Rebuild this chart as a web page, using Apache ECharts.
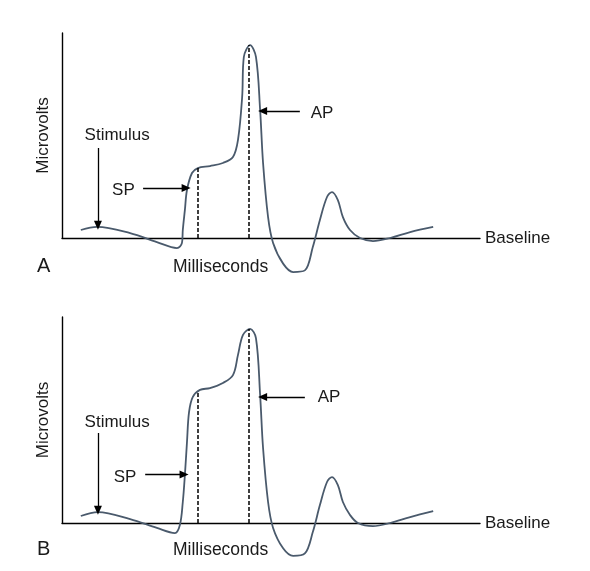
<!DOCTYPE html>
<html>
<head>
<meta charset="utf-8">
<script src="https://cdn.jsdelivr.net/npm/echarts@6/dist/echarts.min.js"></script>
<style>
  html, body { margin: 0; padding: 0; background: #fff; }
  #chart { width: 590px; height: 571px; }
</style>
</head>
<body>
<div id="chart"></div>
<script>
// time (ms) and amplitude (arbitrary µV)
const timeA = [0.45, 0.84, 1.63, 2.27, 2.75, 2.87, 2.89, 2.94, 2.99, 3.11, 3.25, 3.54, 3.85, 4.09, 4.21, 4.31, 4.35, 4.50, 4.64, 4.74, 4.81, 4.93, 5.05, 5.29, 5.53, 5.81, 6.00, 6.17, 6.34, 6.46, 6.60, 6.72, 6.89, 7.13, 7.44, 7.85, 8.33, 8.88]
const voltA = [0.39, 0.54, 0.24, -0.20, -0.49, -0.24, 0.39, 1.37, 2.34, 3.17, 3.41, 3.51, 3.66, 3.95, 4.78, 6.88, 8.83, 9.41, 8.83, 6.24, 3.66, 1.02, -0.24, -1.25, -1.66, -1.58, -0.44, 0.88, 2.00, 2.24, 1.85, 1.02, 0.39, 0, -0.15, 0, 0.29, 0.54]

const timeB = [0.45, 0.86, 1.63, 2.27, 2.70, 2.82, 2.89, 2.94, 2.99, 3.04, 3.13, 3.30, 3.54, 3.85, 4.09, 4.21, 4.33, 4.50, 4.64, 4.74, 4.81, 4.93, 5.05, 5.29, 5.53, 5.81, 6.00, 6.17, 6.34, 6.46, 6.60, 6.72, 6.89, 7.08, 7.44, 7.85, 8.33, 8.88]
const voltB = [0.34, 0.53, 0.19, -0.24, -0.49, -0.10, 1.02, 2.33, 3.93, 5.39, 6.12, 6.46, 6.55, 6.80, 7.18, 8.16, 9.13, 9.42, 8.98, 6.21, 3.64, 1.02, -0.24, -1.23, -1.60, -1.48, -0.44, 0.87, 1.99, 2.23, 1.84, 1.02, 0.39, 0, -0.15, 0, 0.29, 0.58]

// SP and AP latencies / amplitudes marked with dashed lines
const spA = [3.25, 3.41]
const apA = [4.47, 9.41]
const spB = [3.25, 6.41]
const apB = [4.47, 9.42]

const panelLabels = ['A', 'B']
const xTitle = 'Milliseconds'
const yTitle = 'Microvolts'
const baseTitle = 'Baseline'

const font = '"Liberation Sans", Arial, sans-serif'
const ink = '#1a1a1a'
const traceColor = '#4a5a6c'

const pair = (xs, ys) => xs.map((x, i) => [x, ys[i]])

const dashed = { color: '#000', width: 1.5, type: [4, 2] }
const arrow = { color: '#000', width: 1.3, type: 'solid' }

function marks(sp, ap, stim, spArrow, apArrow, labels) {
    return {
        markLine: {
            silent: true,
            animation: false,
            label: { show: false },
            symbol: ['none', 'none'],
            data: [
                [{ coord: [sp[0], 0], lineStyle: dashed }, { coord: [sp[0], sp[1]] }],
                [{ coord: [ap[0], 0], lineStyle: dashed }, { coord: [ap[0], ap[1]] }],
                [{ coord: stim[0], lineStyle: arrow, symbol: 'none' }, { coord: stim[1], symbol: 'triangle', symbolSize: [8, 9], symbolRotate: 180 }],
                [{ coord: spArrow[0], lineStyle: arrow, symbol: 'none' }, { coord: spArrow[1], symbol: 'triangle', symbolSize: [8, 9], symbolRotate: -90 }],
                [{ coord: apArrow[0], lineStyle: arrow, symbol: 'none' }, { coord: apArrow[1], symbol: 'triangle', symbolSize: [8, 9], symbolRotate: 90 }]
            ]
        },
        markPoint: {
            silent: true,
            animation: false,
            symbol: 'circle',
            symbolSize: 0,
            label: { show: true, color: ink, fontSize: 17, fontFamily: font, formatter: p => p.name },
            data: labels.map(l => ({ name: l[0], coord: l[1] }))
        }
    }
}

const chart = echarts.init(document.getElementById('chart'))

const grids = [
    { left: 62, top: 33, width: 418, height: 205 },
    { left: 62, top: 317, width: 418, height: 206 }
]

const axisLine = { show: true, lineStyle: { color: '#000', width: 1.4 } }

const option = {
    animation: false,
    backgroundColor: '#fff',
    grid: grids,
    xAxis: grids.map((g, i) => ({
        type: 'value', gridIndex: i, min: 0, max: 10,
        axisLine: axisLine, axisTick: { show: false }, axisLabel: { show: false }, splitLine: { show: false },
        name: baseTitle, nameLocation: 'end', nameGap: 5,
        nameTextStyle: { color: ink, fontSize: 17, fontFamily: font, padding: [0, 0, 6, 0] }
    })),
    yAxis: grids.map((g, i) => ({
        type: 'value', gridIndex: i, min: 0, max: 10,
        axisLine: axisLine, axisTick: { show: false }, axisLabel: { show: false }, splitLine: { show: false },
        name: yTitle, nameLocation: 'middle', nameRotate: 90, nameGap: 10,
        nameTextStyle: { color: ink, fontSize: 17, fontFamily: font }
    })),
    graphic: [
        { type: 'text', left: 37, top: 256, style: { text: panelLabels[0], fontSize: 20, fontFamily: font, fill: ink } },
        { type: 'text', left: 37, top: 539, style: { text: panelLabels[1], fontSize: 20, fontFamily: font, fill: ink } },
        { type: 'text', left: 173, top: 258, style: { text: xTitle, fontSize: 17.5, fontFamily: font, fill: ink } },
        { type: 'text', left: 173, top: 541, style: { text: xTitle, fontSize: 17.5, fontFamily: font, fill: ink } }
    ],
    series: [
        Object.assign({
            type: 'line', xAxisIndex: 0, yAxisIndex: 0,
            data: pair(timeA, voltA),
            smooth: 0.35, showSymbol: false, clip: false,
            lineStyle: { color: traceColor, width: 1.8 }
        }, marks(spA, apA,
            [[0.86, 4.39], [0.86, 0.62]],
            [[1.94, 2.44], [2.97, 2.44]],
            [[5.69, 6.2], [4.80, 6.2]],
            [['Stimulus', [1.32, 5.02]], ['SP', [1.47, 2.34]], ['AP', [6.22, 6.10]]])),
        Object.assign({
            type: 'line', xAxisIndex: 1, yAxisIndex: 1,
            data: pair(timeB, voltB),
            smooth: 0.35, showSymbol: false, clip: false,
            lineStyle: { color: traceColor, width: 1.8 }
        }, marks(spB, apB,
            [[0.86, 4.37], [0.86, 0.62]],
            [[1.99, 2.36], [2.92, 2.36]],
            [[5.81, 6.12], [4.80, 6.12]],
            [['Stimulus', [1.32, 4.90]], ['SP', [1.51, 2.23]], ['AP', [6.39, 6.12]]]))
    ]
}

chart.setOption(option)
</script>
</body>
</html>
